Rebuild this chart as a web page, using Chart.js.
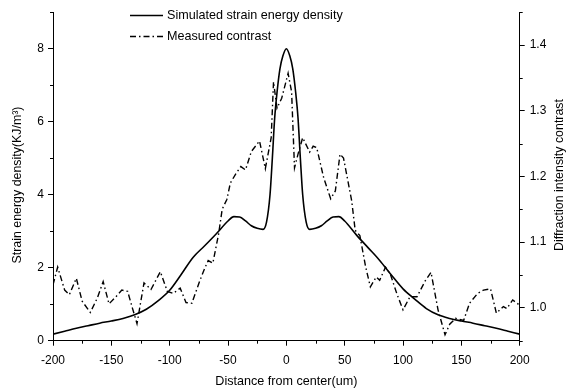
<!DOCTYPE html>
<html>
<head>
<meta charset="utf-8">
<script src="https://cdn.jsdelivr.net/npm/chart.js@4.4.0/dist/chart.umd.min.js"></script>
<style>
  html, body { margin: 0; padding: 0; background: #fff; }
</style>
</head>
<body>
<canvas id="chart" width="566" height="389"></canvas>
<script>
// --- data ---
const simX = [-200, -190, -180, -170, -160, -150, -140, -130, -120, -110, -100, -90, -80, -70, -60, -50, -45, -40, -35, -30, -25, -20, -17, -14, -12, -10, -8, -5.5, -3, 0,
              3, 5.5, 8, 10, 12, 14, 17, 20, 25, 30, 35, 40, 45, 50, 60, 70, 80, 90, 100, 110, 120, 130, 140, 150, 160, 170, 180, 190, 200];
const simY = [0.18, 0.26, 0.34, 0.41, 0.48, 0.54, 0.61, 0.71, 0.86, 1.09, 1.38, 1.82, 2.28, 2.6, 2.93, 3.28, 3.40, 3.39, 3.28, 3.15, 3.08, 3.05, 3.25, 4.0, 5.0, 6.1, 6.8, 7.45, 7.8, 8.0,
              7.8, 7.45, 6.8, 6.1, 5.0, 4.0, 3.25, 3.05, 3.08, 3.15, 3.28, 3.39, 3.40, 3.28, 2.9, 2.55, 2.2, 1.8, 1.42, 1.14, 0.88, 0.71, 0.61, 0.54, 0.48, 0.41, 0.34, 0.26, 0.18];

const measX = [-200, -196, -190, -186, -180, -175, -168, -162, -157, -152, -146, -141, -136, -132, -128, -122, -116, -108, -102, -97, -91, -86, -81, -74, -70, -67, -63,
               -58, -55, -51, -48, -43, -39, -35, -30, -23, -18, -13, -11, -8, -4, 1.5, 4.5, 7, 10, 14, 20, 23, 26, 32, 38, 42, 46, 49, 56, 59, 63, 68,
               72, 77, 80, 85, 89, 95, 100, 106, 112, 119, 124, 130, 136, 140, 145, 152, 157, 164, 169, 175, 180, 186, 189, 194, 200];
const measY = [1.035, 1.062, 1.027, 1.020, 1.045, 1.010, 0.993, 1.015, 1.040, 1.006, 1.017, 1.027, 1.025, 1.000, 0.976, 1.038, 1.028, 1.055, 1.025, 1.022, 1.030, 1.008, 1.007, 1.042, 1.060, 1.072, 1.068,
               1.113, 1.150, 1.165, 1.190, 1.205, 1.215, 1.210, 1.238, 1.254, 1.212, 1.259, 1.344, 1.304, 1.319, 1.357, 1.329, 1.213, 1.234, 1.259, 1.237, 1.246, 1.244, 1.198, 1.166, 1.178, 1.234, 1.228, 1.163, 1.118, 1.110, 1.062,
               1.032, 1.047, 1.042, 1.062, 1.052, 1.020, 0.997, 1.017, 1.017, 1.041, 1.054, 0.997, 0.959, 0.975, 0.984, 0.981, 1.007, 1.022, 1.027, 1.029, 0.992, 1.002, 0.999, 1.012, 1.004];

const xTicks = [-200, -150, -100, -50, 0, 50, 100, 150, 200];
const xMinor = [-175, -125, -75, -25, 25, 75, 125, 175];
const leftTicks = [0, 2, 4, 6, 8];
const leftMinor = [1, 3, 5, 7, 9];
const rightTicks = [1.0, 1.1, 1.2, 1.3, 1.4];
const rightMinor = [0.95, 1.05, 1.15, 1.25, 1.35, 1.45];

const leftTitle = 'Strain energy density(KJ/m³)';
const rightTitle = 'Diffraction intensity contrast';

const FONT = "'Liberation Sans', Arial, sans-serif";
Chart.defaults.font.family = FONT;
Chart.defaults.font.size = 12;
Chart.defaults.color = '#000';

function zip(xs, ys) { return xs.map((x, i) => ({ x: x, y: ys[i] })); }
function fixTicks(list) { return scale => { scale.ticks = list.map(v => ({ value: v })); }; }

// small minor ticks, drawn through each scale
const minorTicks = {
  id: 'minorTicks',
  afterDraw(chart) {
    const ctx = chart.ctx;
    const s = chart.scales;
    ctx.save();
    ctx.strokeStyle = '#000';
    ctx.lineWidth = 1;
    ctx.beginPath();
    xMinor.forEach(v => { const p = Math.round(s.x.getPixelForValue(v)) + 0.5; ctx.moveTo(p, s.x.top); ctx.lineTo(p, s.x.top + 3); });
    leftMinor.forEach(v => { const p = Math.round(s.y.getPixelForValue(v)) + 0.5; ctx.moveTo(s.y.right, p); ctx.lineTo(s.y.right - 3, p); });
    rightMinor.forEach(v => { const p = Math.round(s.y2.getPixelForValue(v)) + 0.5; ctx.moveTo(s.y2.left, p); ctx.lineTo(s.y2.left + 3, p); });
    ctx.stroke();
    ctx.restore();
  }
};

// both y titles read bottom to top
const yTitles = {
  id: 'yTitles',
  afterDraw(chart) {
    const ctx = chart.ctx;
    ctx.save();
    ctx.font = '12.4px ' + FONT;
    ctx.fillStyle = '#000';
    ctx.textAlign = 'center';
    ctx.textBaseline = 'middle';
    [[leftTitle, 18, 185], [rightTitle, 560, 175]].forEach(([t, x, y]) => {
      ctx.save();
      ctx.translate(x, y);
      ctx.rotate(-Math.PI / 2);
      ctx.fillText(t, 0, 0);
      ctx.restore();
    });
    ctx.restore();
  }
};

// legend inside the plot
const insideLegend = {
  id: 'insideLegend',
  afterDraw(chart) {
    const ctx = chart.ctx;
    const items = chart.data.datasets;
    ctx.save();
    ctx.font = '12.6px ' + FONT;
    ctx.fillStyle = '#000';
    ctx.textBaseline = 'middle';
    items.forEach((ds, i) => {
      const y = 15.5 + i * 21;
      ctx.beginPath();
      ctx.strokeStyle = '#000';
      ctx.lineWidth = ds.borderWidth;
      ctx.setLineDash(ds.borderDash || []);
      ctx.moveTo(130, y);
      ctx.lineTo(163, y);
      ctx.stroke();
      ctx.setLineDash([]);
      ctx.fillText(ds.label, 167, y);
    });
    ctx.restore();
  }
};

new Chart(document.getElementById('chart'), {
  type: 'line',
  data: {
    datasets: [
      {
        label: 'Simulated strain energy density',
        data: zip(simX, simY),
        yAxisID: 'y',
        borderColor: '#000',
        borderWidth: 1.6,
        pointRadius: 0,
        cubicInterpolationMode: 'monotone',
        fill: false
      },
      {
        label: 'Measured contrast',
        data: zip(measX, measY),
        yAxisID: 'y2',
        borderColor: '#000',
        borderWidth: 1.4,
        borderDash: [6, 3, 1.5, 3],
        pointRadius: 0,
        tension: 0,
        fill: false
      }
    ]
  },
  options: {
    responsive: false,
    animation: false,
    layout: { padding: { top: 10, left: 0, right: 0, bottom: 0 } },
    plugins: { legend: { display: false }, tooltip: { enabled: false } },
    scales: {
      x: {
        type: 'linear',
        min: -200, max: 200,
        afterBuildTicks: fixTicks(xTicks),
        afterFit: s => { s.height = 48.3; },
        ticks: { padding: 8, maxRotation: 0, autoSkip: false, callback: v => String(v) },
        grid: { drawOnChartArea: false, tickLength: 5, tickColor: '#000' },
        border: { color: '#000', width: 1 },
        title: { display: true, text: 'Distance from center(um)', font: { size: 12.6 }, padding: { top: 1, bottom: 0 } }
      },
      y: {
        position: 'left',
        min: 0, max: 9,
        afterBuildTicks: fixTicks(leftTicks),
        afterFit: s => { s.width = 53; },
        ticks: { padding: 4, callback: v => String(v) },
        grid: { drawOnChartArea: false, tickLength: 5, tickColor: '#000' },
        border: { color: '#000', width: 1 }
      },
      y2: {
        position: 'right',
        min: 0.95, max: 1.45,
        afterBuildTicks: fixTicks(rightTicks),
        afterFit: s => { s.width = 46.3; },
        ticks: { padding: 5, callback: v => v.toFixed(1) },
        grid: { drawOnChartArea: false, tickLength: 5, tickColor: '#000' },
        border: { color: '#000', width: 1 }
      }
    }
  },
  plugins: [minorTicks, yTitles, insideLegend]
});
</script>
</body>
</html>
